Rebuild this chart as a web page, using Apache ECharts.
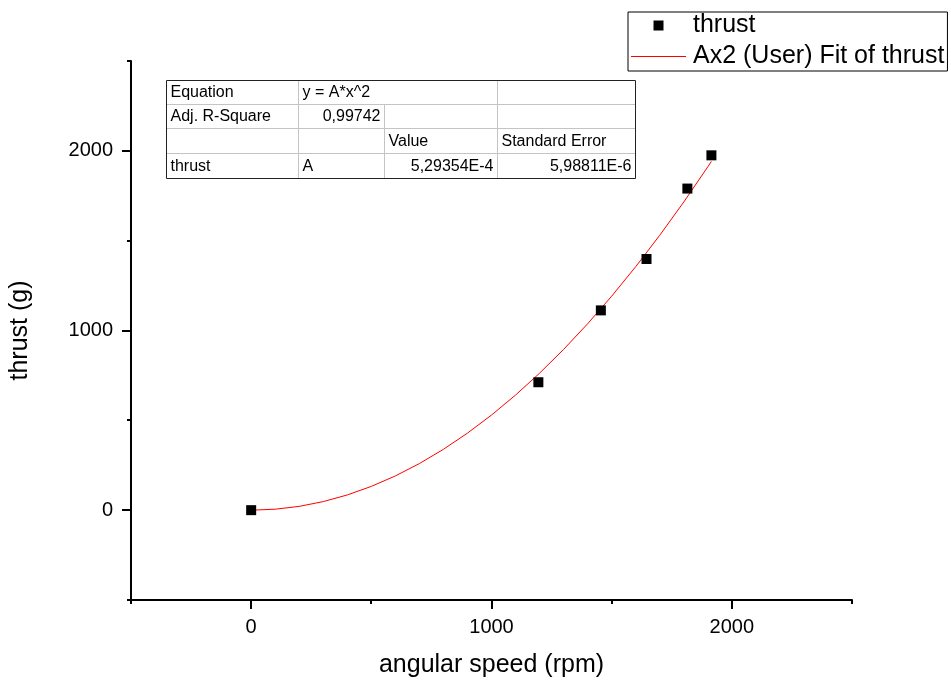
<!DOCTYPE html>
<html>
<head>
<meta charset="utf-8">
<script src="https://cdn.jsdelivr.net/npm/echarts@6/dist/echarts.min.js"></script>
<style>
html,body{margin:0;padding:0;background:#fff;}
#chart{width:951px;height:680px;}
</style>
</head>
<body>
<div id="chart"></div>
<script>
// ---- data ----
var speedRpm = [0, 1195, 1455, 1645, 1815, 1915];
var thrustG = [0, 712, 1112, 1398, 1790, 1975];
// fitted curve y = A*x^2, A = 5.29354E-4 (values written out)
var fitX = [0, 100, 200, 300, 400, 500, 600, 700, 800, 900, 1000, 1100, 1200, 1300, 1400, 1500, 1600, 1700, 1800, 1900, 1915];
var fitY = [0, 5.29, 21.17, 47.64, 84.70, 132.34, 190.57, 259.38, 338.79, 428.78, 529.35, 640.52, 762.27, 894.61, 1037.53, 1191.05, 1355.15, 1529.83, 1715.11, 1910.97, 1941.26];
var xMajorTicks = [0, 1000, 2000];
var xMinorTicks = [-500, 500, 1500, 2500];
var yMajorTicks = [0, 1000, 2000];
var yMinorTicks = [-500, 500, 1500, 2500];
var axisMin = -500, axisMax = 2500;
var seriesNames = ['thrust', 'Ax2 (User) Fit of thrust'];
var axisNames = ['angular speed (rpm)', 'thrust (g)'];
var tableCells = [
  ['Equation', 'y = A*x^2', null, null],
  ['Adj. R-Square', '0,99742', null, null],
  [null, null, 'Value', 'Standard Error'],
  ['thrust', 'A', '5,29354E-4', '5,98811E-6']
];
var tableAlign = [
  ['left', 'left', 'left', 'left'],
  ['left', 'right', 'left', 'left'],
  ['left', 'left', 'left', 'left'],
  ['left', 'left', 'right', 'right']
];

var FONT = "'Liberation Sans', Arial, Helvetica, sans-serif";

var scatterData = speedRpm.map(function (x, i) { return [x, thrustG[i]]; });
var fitData = fitX.map(function (x, i) { return [x, fitY[i]]; });

// tick marks placed through the axes' own scales: [x, y, isMajor]
var xTickData = xMajorTicks.map(function (v) { return [v, axisMin, 1]; })
  .concat(xMinorTicks.map(function (v) { return [v, axisMin, 0]; }));
var yTickData = yMajorTicks.map(function (v) { return [axisMin, v, 1]; })
  .concat(yMinorTicks.map(function (v) { return [axisMin, v, 0]; }));

function xTickRender(params, api) {
  var p = api.coord([api.value(0), api.value(1)]);
  var len = api.value(2) ? 9 : 4;
  var x = Math.round(p[0]);
  return {type: 'line', shape: {x1: x, y1: p[1], x2: x, y2: p[1] + len},
    style: {stroke: '#000', lineWidth: 2}};
}
function yTickRender(params, api) {
  var p = api.coord([api.value(0), api.value(1)]);
  var len = api.value(2) ? 9 : 4;
  var y = Math.round(p[1]);
  return {type: 'line', shape: {x1: p[0], y1: y, x2: p[0] - len, y2: y},
    style: {stroke: '#000', lineWidth: 2}};
}

// ---- table graphic ----
var TX = [166.5, 298.5, 384.5, 497.5, 635.5];
var TY = [80.5, 104.5, 128.5, 153.5, 178.5];
var gfx = [];
gfx.push({type: 'rect', z: 100, shape: {x: TX[0], y: TY[0], width: TX[4] - TX[0], height: TY[4] - TY[0]},
  style: {fill: '#fff', stroke: 'none'}});
for (var r = 1; r < 4; r++) {
  gfx.push({type: 'line', z: 101, shape: {x1: TX[0], y1: TY[r], x2: TX[4], y2: TY[r]}, style: {stroke: '#c4c4c4', lineWidth: 1}});
}
gfx.push({type: 'line', z: 101, shape: {x1: TX[1], y1: TY[0], x2: TX[1], y2: TY[4]}, style: {stroke: '#c4c4c4', lineWidth: 1}});
gfx.push({type: 'line', z: 101, shape: {x1: TX[2], y1: TY[1], x2: TX[2], y2: TY[4]}, style: {stroke: '#c4c4c4', lineWidth: 1}});
gfx.push({type: 'line', z: 101, shape: {x1: TX[3], y1: TY[0], x2: TX[3], y2: TY[4]}, style: {stroke: '#c4c4c4', lineWidth: 1}});
gfx.push({type: 'rect', z: 102, shape: {x: TX[0], y: TY[0], width: TX[4] - TX[0], height: TY[4] - TY[0]},
  style: {fill: 'none', stroke: '#222', lineWidth: 1}});
for (var i = 0; i < 4; i++) {
  for (var j = 0; j < 4; j++) {
    var t = tableCells[i][j];
    if (t === null) continue;
    var al = tableAlign[i][j];
    var tx = al === 'left' ? TX[j] + 4 : TX[j + 1] - 4;
    gfx.push({type: 'text', z: 103, x: tx, y: (TY[i] + TY[i + 1]) / 2 + 0.5,
      style: {text: t, fill: '#000', fontSize: 16, fontFamily: FONT, align: al, verticalAlign: 'middle'}});
  }
}

function plainLabel(v) { return String(v); }

var chart = echarts.init(document.getElementById('chart'), null, {renderer: 'canvas'});
chart.setOption({
  animation: false,
  backgroundColor: '#fff',
  textStyle: {fontFamily: FONT},
  grid: {left: 131, right: 99, top: 61, bottom: 80, containLabel: false, outerBoundsMode: 'none'},
  legend: {
    left: 628, top: 12, orient: 'vertical',
    padding: [1, 3, 2, 3], itemGap: 6, itemWidth: 55, itemHeight: 10,
    borderColor: '#000', borderWidth: 1, backgroundColor: '#fff',
    textStyle: {fontSize: 25, color: '#000', fontFamily: FONT, padding: [0, 0, 0, 2]},
    data: [
      {name: seriesNames[0], icon: 'path://M0,0L10,0L10,10L0,10Z', itemStyle: {color: '#000', opacity: 1}},
      {name: seriesNames[1], icon: 'path://M0,0L55,0L55,1L0,1Z', itemStyle: {color: '#ff0000'}}
    ]
  },
  xAxis: {
    type: 'value', min: axisMin, max: axisMax, interval: 500, position: 'bottom',
    name: axisNames[0], nameLocation: 'middle', nameGap: 53,
    nameTextStyle: {fontSize: 25, color: '#000', fontFamily: FONT},
    axisLine: {show: true, onZero: false, lineStyle: {color: '#000', width: 2}},
    axisTick: {show: false},
    axisLabel: {customValues: xMajorTicks, fontSize: 20, color: '#000', margin: 17, fontFamily: FONT, formatter: plainLabel},
    splitLine: {show: false}
  },
  yAxis: {
    type: 'value', min: axisMin, max: axisMax, interval: 500, position: 'left',
    name: axisNames[1], nameLocation: 'middle', nameGap: 98,
    nameTextStyle: {fontSize: 25, color: '#000', fontFamily: FONT},
    axisLine: {show: true, onZero: false, lineStyle: {color: '#000', width: 2}},
    axisTick: {show: false},
    axisLabel: {customValues: yMajorTicks, fontSize: 20, color: '#000', margin: 18, fontFamily: FONT, formatter: plainLabel},
    splitLine: {show: false}
  },
  series: [{
    name: seriesNames[1], type: 'line', data: fitData,
    showSymbol: false, symbol: 'none', smooth: false,
    lineStyle: {color: '#ff0000', width: 1}, itemStyle: {color: '#ff0000'}, z: 2
  }, {
    name: seriesNames[0], type: 'scatter', data: scatterData,
    symbol: 'rect', symbolSize: 10, itemStyle: {color: '#000', opacity: 1}, z: 3
  }, {
    name: 'xTicks', type: 'custom', data: xTickData, renderItem: xTickRender,
    clip: false, silent: true, z: 4
  }, {
    name: 'yTicks', type: 'custom', data: yTickData, renderItem: yTickRender,
    clip: false, silent: true, z: 4
  }],
  graphic: gfx
});
</script>
</body>
</html>
